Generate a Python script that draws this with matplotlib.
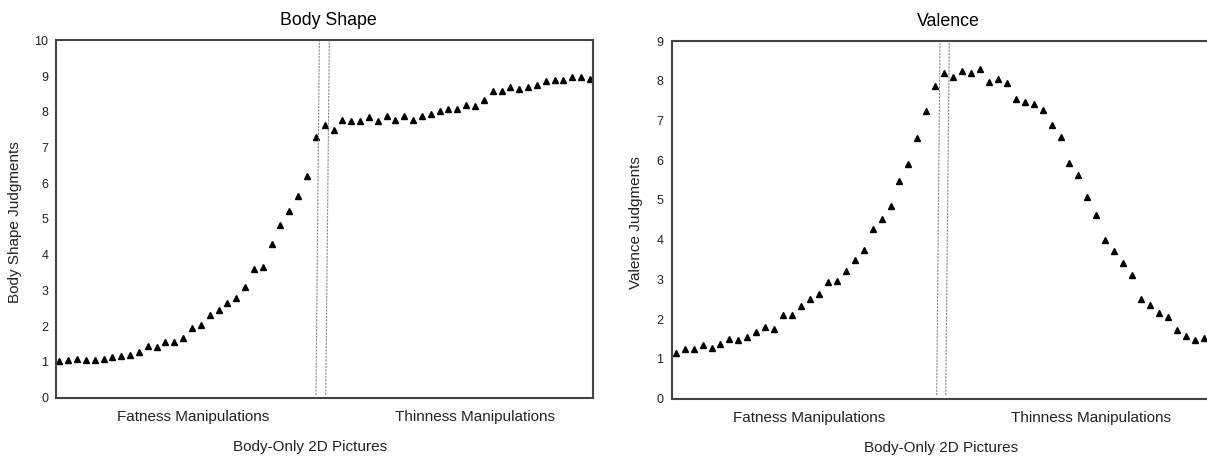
import matplotlib
matplotlib.use("Agg")
import matplotlib.pyplot as plt

plt.rcParams['font.family'] = ['Liberation Sans', 'DejaVu Sans']

# Body shape judgments, 61 body-only pictures (fat -> thin)
body_shape = [1.03, 1.05, 1.09, 1.06, 1.06, 1.09, 1.13, 1.16, 1.19, 1.28,
              1.46, 1.42, 1.57, 1.57, 1.67, 1.96, 2.03, 2.31, 2.46, 2.64,
              2.79, 3.11, 3.61, 3.65, 4.29, 4.84, 5.23, 5.63, 6.20, 7.29,
              7.62, 7.49, 7.78, 7.74, 7.74, 7.84, 7.74, 7.88, 7.78, 7.88,
              7.78, 7.88, 7.95, 8.03, 8.09, 8.09, 8.20, 8.15, 8.34, 8.57,
              8.57, 8.68, 8.63, 8.70, 8.75, 8.86, 8.89, 8.89, 8.96, 8.96,
              8.93]

# Valence judgments (visible part of the second panel)
valence = [1.16, 1.25, 1.25, 1.35, 1.28, 1.38, 1.50, 1.48, 1.54, 1.67,
           1.80, 1.76, 2.10, 2.10, 2.32, 2.51, 2.63, 2.93, 2.96, 3.22,
           3.49, 3.74, 4.27, 4.53, 4.85, 5.49, 5.91, 6.56, 7.23, 7.88,
           8.20, 8.10, 8.24, 8.20, 8.30, 7.98, 8.05, 7.94, 7.55, 7.46,
           7.42, 7.26, 6.88, 6.59, 5.94, 5.63, 5.08, 4.62, 3.99, 3.71,
           3.41, 3.10, 2.52, 2.35, 2.16, 2.06, 1.74, 1.58, 1.48, 1.52]

# the two dashed lines that mark the original (unmanipulated) picture
bs_lines = [([30.02, 30.40], [0.08, 10]), ([31.12, 31.53], [0.08, 10])]
val_lines = [([30.16, 30.53], [0.09, 9]), ([31.17, 31.57], [0.09, 9])]

W, H = 1207, 457
fig = plt.figure(figsize=(W / 100, H / 100), dpi=100)

ax1 = fig.add_axes([55.7 / W, (H - 397.7) / H, 537.3 / W, 357.4 / H])
ax2 = fig.add_axes([671.7 / W, (H - 398.7) / H, 543.3 / W, 357.7 / H])

spine_col = '#444444'


def draw_panel(ax, values, lines, ymax, xlim, title, ylabel, label_pos,
               title_x, ylab_x, pad):
    x = list(range(1, len(values) + 1))
    ax.plot(x, values, linestyle='none', marker='^', markersize=4.8,
            color='black')
    for lx, ly in lines:
        ax.plot(lx, ly, linestyle=(0, (2, 1)), color='#888888', lw=0.8)
    ax.set_xlim(*xlim)
    ax.set_ylim(0, ymax)
    ax.set_yticks(range(0, ymax + 1))
    ax.set_xticks([])
    ax.tick_params(axis='y', length=0, pad=pad, labelsize=9,
                   labelcolor='#222222')
    for s in ax.spines.values():
        s.set_color(spine_col)
        s.set_linewidth(1.5)
    tr = ax.get_xaxis_transform()
    ax.text(label_pos[0], -0.053, 'Fatness Manipulations', transform=tr,
            ha='center', va='center', fontsize=11, color='#222222')
    ax.text(label_pos[1], -0.053, 'Thinness Manipulations', transform=tr,
            ha='center', va='center', fontsize=11, color='#222222')
    ax.text(label_pos[2], -0.138, 'Body-Only 2D Pictures', transform=tr,
            ha='center', va='center', fontsize=11, color='#222222')
    ax.text(title_x, 1.055, title, transform=tr, ha='center', va='center',
            fontsize=12.8, color='black')
    ax.text(ylab_x, 0.492, ylabel, transform=ax.transAxes, rotation=90,
            ha='center', va='center', fontsize=11, color='#222222')


draw_panel(ax1, body_shape, bs_lines, 10, (0.59, 61.34), 'Body Shape',
           'Body Shape Judgments', (16.1, 48.0, 29.4), 31.46, -0.0757, 5.3)
draw_panel(ax2, valence, val_lines, 9, (0.55, 61.26), 'Valence',
           'Valence Judgments', (15.9, 47.4, 30.6), 31.5, -0.0657, 6.0)

fig.savefig('out.png', dpi=100)
